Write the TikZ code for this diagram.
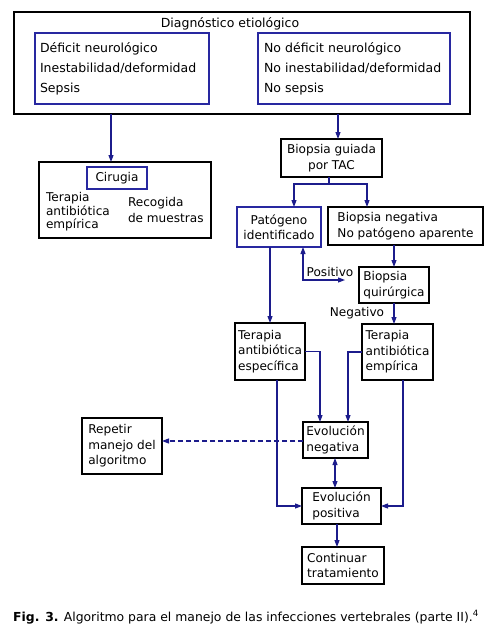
\documentclass[tikz,border=0pt]{standalone}
\usepackage{fontspec}
\setmainfont{DejaVu Sans}
\usetikzlibrary{arrows.meta}
\definecolor{navy}{RGB}{28,28,140}
\definecolor{bluebox}{RGB}{40,40,160}
\newcommand\boxat[7][]{\node[box,#1, minimum width={#5-#3}, minimum height={#6-#4}] (#2) at ({(#3+#5)/2},{(#4+#6)/2}) {#7};}
\begin{document}
\begin{tikzpicture}[x=1pt,y=-1pt,
  every node/.style={font=\fontsize{12.1}{15.5}\selectfont, inner sep=0pt, outer sep=0pt},
  box/.style={draw=black, line width=1.2pt, rectangle, align=left},
  bbox/.style={draw=bluebox},
  conn/.style={draw=navy, line width=1.1pt},
  arr/.style={conn, -{Triangle[length=7pt,width=5pt]}},
  arrboth/.style={conn, {Triangle[length=7pt,width=5pt]}-{Triangle[length=7pt,width=5pt]}},
  lbl/.style={font=\fontsize{12.1}{15.5}\selectfont},
  big/.style={font=\fontsize{12.5}{20}\selectfont}]
\useasboundingbox[fill=white] (0,0) rectangle (491,634);

% top box
\boxat{diag}{14}{12}{470}{114}{}
\node[lbl, font=\fontsize{12.5}{15}\selectfont] (title) at (230,24) {Diagnóstico etiológico};
\boxat[bbox, big, text width=164pt]{left}{35}{33}{209}{104}{Déficit neurológico\\Inestabilidad/deformidad\\Sepsis}
\boxat[bbox, big, text width=180pt]{right}{258}{33}{450}{104}{No déficit neurológico\\No inestabilidad/deformidad\\No sepsis}

% left branch
\boxat{cirbox}{39}{162}{211}{238}{}
\boxat[bbox]{cirugia}{87}{167}{147}{189}{Cirugia}
\node[lbl, anchor=west, align=left, font=\fontsize{12.1}{13.5}\selectfont] (terap) at (46,212) {Terapia\\antibiótica\\empírica};
\node[lbl, anchor=west, align=left] (recog) at (128,210) {Recogida\\de muestras};

% right branch
\boxat[align=center]{tac}{281}{139}{382}{177}{Biopsia guiada\\por TAC}
\boxat[bbox, align=center]{pat}{237}{207}{321}{247}{Patógeno\\identificado}
\boxat{neg}{328}{207}{483}{245}{Biopsia negativa\\No patógeno aparente}
\boxat{quir}{359}{267}{429}{303}{Biopsia\\quirúrgica}
\boxat{esp}{235}{323}{305}{380}{Terapia\\antibiótica\\específica}
\boxat{emp}{362}{324}{433}{380}{Terapia\\antibiótica\\empírica}
\boxat{evneg}{303}{422}{368}{458}{Evolución\\negativa}
\boxat{rep}{82}{418}{162}{474}{Repetir\\manejo del\\algoritmo}
\boxat{evpos}{302}{488}{381}{524}{Evolución\\positiva}
\boxat{cont}{302}{547}{384}{584}{Continuar\\tratamiento}

\node[lbl] (posl) at (330,272) {Positivo};
\node[lbl] (negl) at (357,313) {Negativo};

% helper coordinates
\coordinate (xA) at (111,0);
\coordinate (xB) at (338,0);
\coordinate (jn) at (329,184);
\coordinate (xP) at (294,0);
\coordinate (xN) at (367,0);
\coordinate (xPos) at (303,0);
\coordinate (posEnd) at (345,280);
\coordinate (xE1) at (320,0);
\coordinate (xE2) at (348,0);
\coordinate (xF1) at (277,0);
\coordinate (xF2) at (403,0);
\coordinate (xG) at (337,0);
\coordinate (xH) at (335,0);
\coordinate (yD) at (0,441);

% connectors
\draw[arr] (diag.south -| xA) -- (cirbox.north -| xA);
\draw[arr] (diag.south -| xB) -- (tac.north -| xB);
\draw[conn] (tac.south -| jn) -- (jn);
\draw[arr] (jn) -| (pat.north -| xP);
\draw[arr] (jn) -| (neg.north -| xN);
\draw[arr] (neg.south -| quir.north) -- (quir.north);
\draw[arrboth] (pat.south -| xPos) |- (posEnd);
\draw[arr] (quir.south) -- (emp.north -| quir.south);
\draw[arr] (pat.south -| esp.north) -- (esp.north);
\draw[arr] (esp.east) -| (evneg.north -| xE1);
\draw[arr] (emp.west) -| (evneg.north -| xE2);
\draw[arr, dash pattern=on 5pt off 3pt] (evneg.west |- yD) -- (rep.east |- yD);
\draw[arrboth] (evneg.south -| xH) -- (evpos.north -| xH);
\draw[arr] (esp.south -| xF1) |- (evpos.west);
\draw[arr] (emp.south -| xF2) |- (evpos.east);
\draw[arr] (evpos.south -| xG) -- (cont.north -| xG);

% caption
\node[lbl, font=\fontsize{12.4}{15}\selectfont] (cap) at (246,617) {\textbf{Fig. 3.} Algoritmo para el manejo de las infecciones vertebrales (parte II).\textsuperscript{4}};
\end{tikzpicture}
\end{document}
